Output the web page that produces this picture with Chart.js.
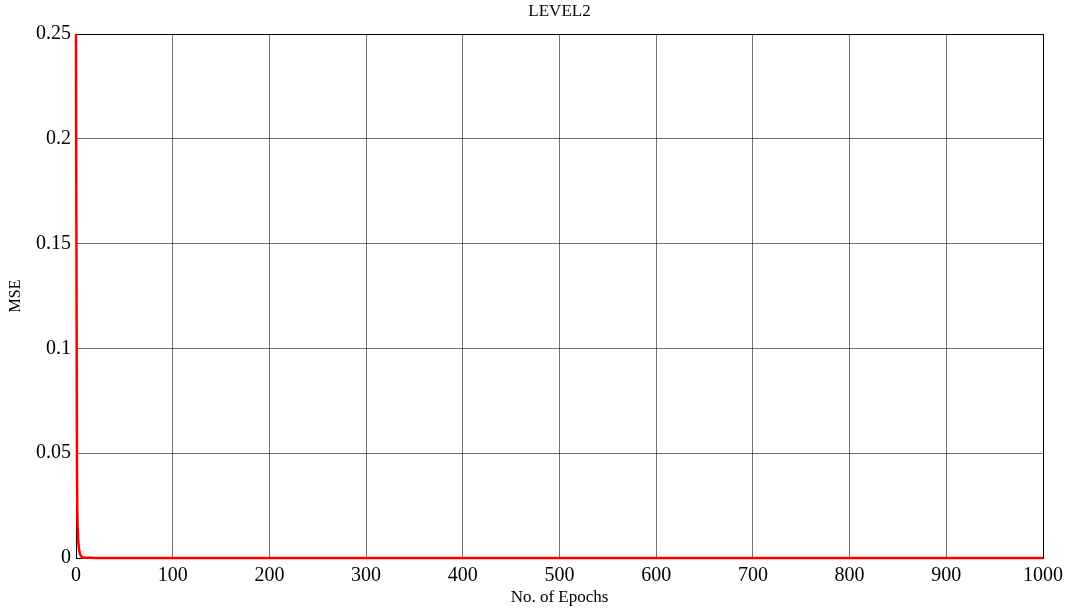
<!DOCTYPE html>
<html lang="en">

<head>
    <meta charset="utf-8">
    <style>
        html, body { margin: 0; padding: 0; background: #fff; }
    </style>
</head>

<body>
    <canvas id="mseChart" width="1072" height="611"></canvas>
    <script src="https://cdn.jsdelivr.net/npm/chart.js"></script>
    <script>
        // training error per epoch
        const epochs = [0, 1, 2, 3, 4, 5, 6, 7, 8, 10, 14, 20, 50, 100, 300, 600, 1000];
        const mse = [0.25, 0.045, 0.012, 0.005, 0.0022, 0.0011, 0.0006, 0.0003, 0.0002, 0.0001,
            0.00007, 0.00005, 0.00004, 0.00003, 0.00002, 0.00002, 0.00002];

        const yTickValues = [0, 0.05, 0.1, 0.15, 0.2, 0.25];
        const yTickLabels = ['0', '0.05', '0.1', '0.15', '0.2', '0.25'];

        const font = 'Liberation Serif';
        const chartTitle = 'LEVEL2';

        // black frame round the plot area, drawn under the curve,
        // and the title centred over the plot area
        const boxPlugin = {
            id: 'box',
            beforeDatasetsDraw(chart) {
                const a = chart.chartArea;
                const ctx = chart.ctx;
                ctx.save();
                ctx.strokeStyle = '#000';
                ctx.lineWidth = 1;
                ctx.strokeRect(Math.round(a.left) + 0.5, Math.round(a.top) + 0.5,
                    Math.round(a.right - a.left), Math.round(a.bottom - a.top));
                ctx.fillStyle = '#000';
                ctx.font = '17px "' + font + '"';
                ctx.textAlign = 'center';
                ctx.textBaseline = 'middle';
                ctx.fillText(chartTitle, (a.left + a.right) / 2, 12);
                ctx.restore();
            }
        };

        new Chart(document.getElementById('mseChart'), {
            type: 'line',
            data: {
                datasets: [{
                    data: epochs.map((e, i) => ({ x: e, y: mse[i] })),
                    borderColor: '#ff0000',
                    borderWidth: 2.5,
                    pointRadius: 0,
                    cubicInterpolationMode: 'monotone',
                    fill: false,
                    clip: 3
                }]
            },
            options: {
                responsive: false,
                animation: false,
                layout: { padding: { left: 0, right: 29, top: 34, bottom: 0 } },
                plugins: {
                    legend: { display: false },
                    tooltip: { enabled: false },
                    title: { display: false }
                },
                scales: {
                    x: {
                        type: 'linear',
                        min: 0,
                        max: 1000,
                        afterFit(scale) { scale.height = 53; },
                        ticks: {
                            stepSize: 100,
                            color: '#000',
                            padding: 6,
                            maxRotation: 0,
                            font: { family: font, size: 20 },
                            callback: (v) => String(v)
                        },
                        grid: { color: 'rgba(0,0,0,0.55)', lineWidth: 1, drawTicks: false },
                        border: { color: '#000', width: 1 },
                        title: {
                            display: true,
                            text: 'No. of Epochs',
                            color: '#000',
                            font: { family: font, size: 17 },
                            padding: { top: 0, bottom: 3 }
                        }
                    },
                    y: {
                        type: 'linear',
                        min: 0,
                        max: 0.25,
                        afterFit(scale) { scale.width = 76; },
                        afterBuildTicks(scale) {
                            scale.ticks = yTickValues.map(v => ({ value: v }));
                        },
                        ticks: {
                            color: '#000',
                            padding: 5,
                            font: { family: font, size: 20 },
                            callback: (v) => {
                                const i = yTickValues.findIndex(t => Math.abs(t - v) < 1e-9);
                                return i >= 0 ? yTickLabels[i] : '';
                            }
                        },
                        grid: { color: 'rgba(0,0,0,0.55)', lineWidth: 1, drawTicks: false },
                        border: { color: '#000', width: 1 },
                        title: {
                            display: true,
                            text: 'MSE',
                            color: '#000',
                            font: { family: font, size: 16 },
                            padding: { top: 6, bottom: 0 }
                        }
                    }
                }
            },
            plugins: [boxPlugin]
        });
    </script>
</body>

</html>
